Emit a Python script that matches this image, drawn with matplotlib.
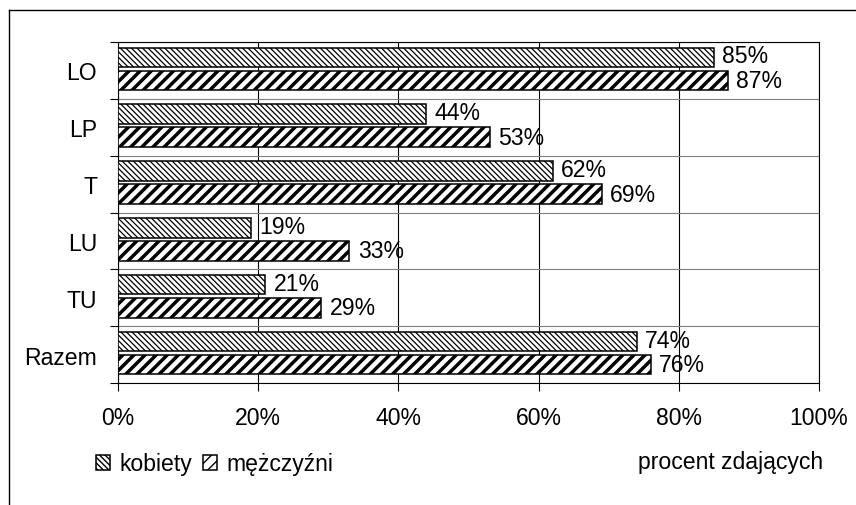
"""Horizontal hatched bar chart: pass rate by school type and sex."""

import matplotlib
matplotlib.use("Agg")
import matplotlib.pyplot as plt
from matplotlib.lines import Line2D
import numpy as np

categories = ["LO", "LP", "T", "LU", "TU", "Razem"]
kobiety = [85, 44, 62, 19, 21, 74]
mezczyzni = [87, 53, 69, 33, 29, 76]
series_names = ["kobiety", "mężczyźni"]
x_ticks = [0, 20, 40, 60, 80, 100]

plt.rcParams["font.family"] = ["Liberation Sans", "DejaVu Sans"]
FS = 16.6

fig = plt.figure(figsize=(8.56, 5.06), dpi=100)
ax = fig.add_axes([118 / 856, 1 - 384 / 506, 701 / 856, 341 / 506])

y = np.arange(len(categories))
h = 0.345


def hatched_barh(ypos, vals, hatch, hlw):
    with plt.rc_context({"hatch.linewidth": hlw}):
        bars = ax.barh(ypos, vals, height=h, color="white", edgecolor="black",
                       linewidth=1.1, hatch=hatch, zorder=3)
    for b in bars:
        if hasattr(b, "set_hatch_linewidth"):
            b.set_hatch_linewidth(hlw)
    return bars


b1 = hatched_barh(y - 0.23, kobiety, "\\" * 6, 0.9)
b2 = hatched_barh(y + 0.176, mezczyzni, "///", 2.5)

for yy, v in zip(y - 0.23, kobiety):
    ax.annotate(f"{v}%", (v, yy), xytext=(6, 1), textcoords="offset points",
                ha="left", va="center", fontsize=FS)
for yy, v in zip(y + 0.176, mezczyzni):
    ax.annotate(f"{v}%", (v, yy), xytext=(6, 0), textcoords="offset points",
                ha="left", va="center", fontsize=FS)

ax.set_xlim(0, 100)
ax.set_ylim(len(categories) - 0.5, -0.5)
ax.set_xticks(x_ticks)
ax.set_xticklabels([f"{t}%" for t in x_ticks], fontsize=FS)
ax.set_yticks(y)
ax.set_yticklabels(categories, fontsize=FS)
ax.set_yticks(np.arange(len(categories) + 1) - 0.5, minor=True)
ax.tick_params(axis="y", which="major", length=0, pad=15)
ax.tick_params(axis="y", which="minor", length=5.8, width=0.8, direction="out")
ax.tick_params(axis="x", which="major", length=5.8, width=0.8, direction="out", pad=11)

ax.grid(axis="x", which="major", color="black", linewidth=0.8, zorder=1)
ax.grid(axis="y", which="minor", color="#808080", linewidth=0.8, zorder=1)
ax.set_axisbelow(True)
for s in ax.spines.values():
    s.set_linewidth(0.8)
    s.set_color("black")

leg = fig.legend([b1[0], b2[0]], series_names, loc="center left",
                 bbox_to_anchor=(96 / 856, 1 - 465 / 506), ncol=2, frameon=False,
                 fontsize=FS, handlelength=0.6, handleheight=0.6,
                 handletextpad=0.4, columnspacing=0.5, borderpad=0, borderaxespad=0)

fig.text(823 / 856, 1 - 463 / 506, "procent zdających", ha="right", va="center",
         fontsize=FS)

# outer frame (only top and left edges visible in the crop)
fig.add_artist(Line2D([9 / 856, 9 / 856], [0, 1 - 11 / 506], transform=fig.transFigure,
                      color="black", linewidth=1.0))
fig.add_artist(Line2D([9 / 856, 1], [1 - 11 / 506, 1 - 11 / 506], transform=fig.transFigure,
                      color="black", linewidth=1.0))

fig.savefig("out.png", dpi=100)
plt.close(fig)
